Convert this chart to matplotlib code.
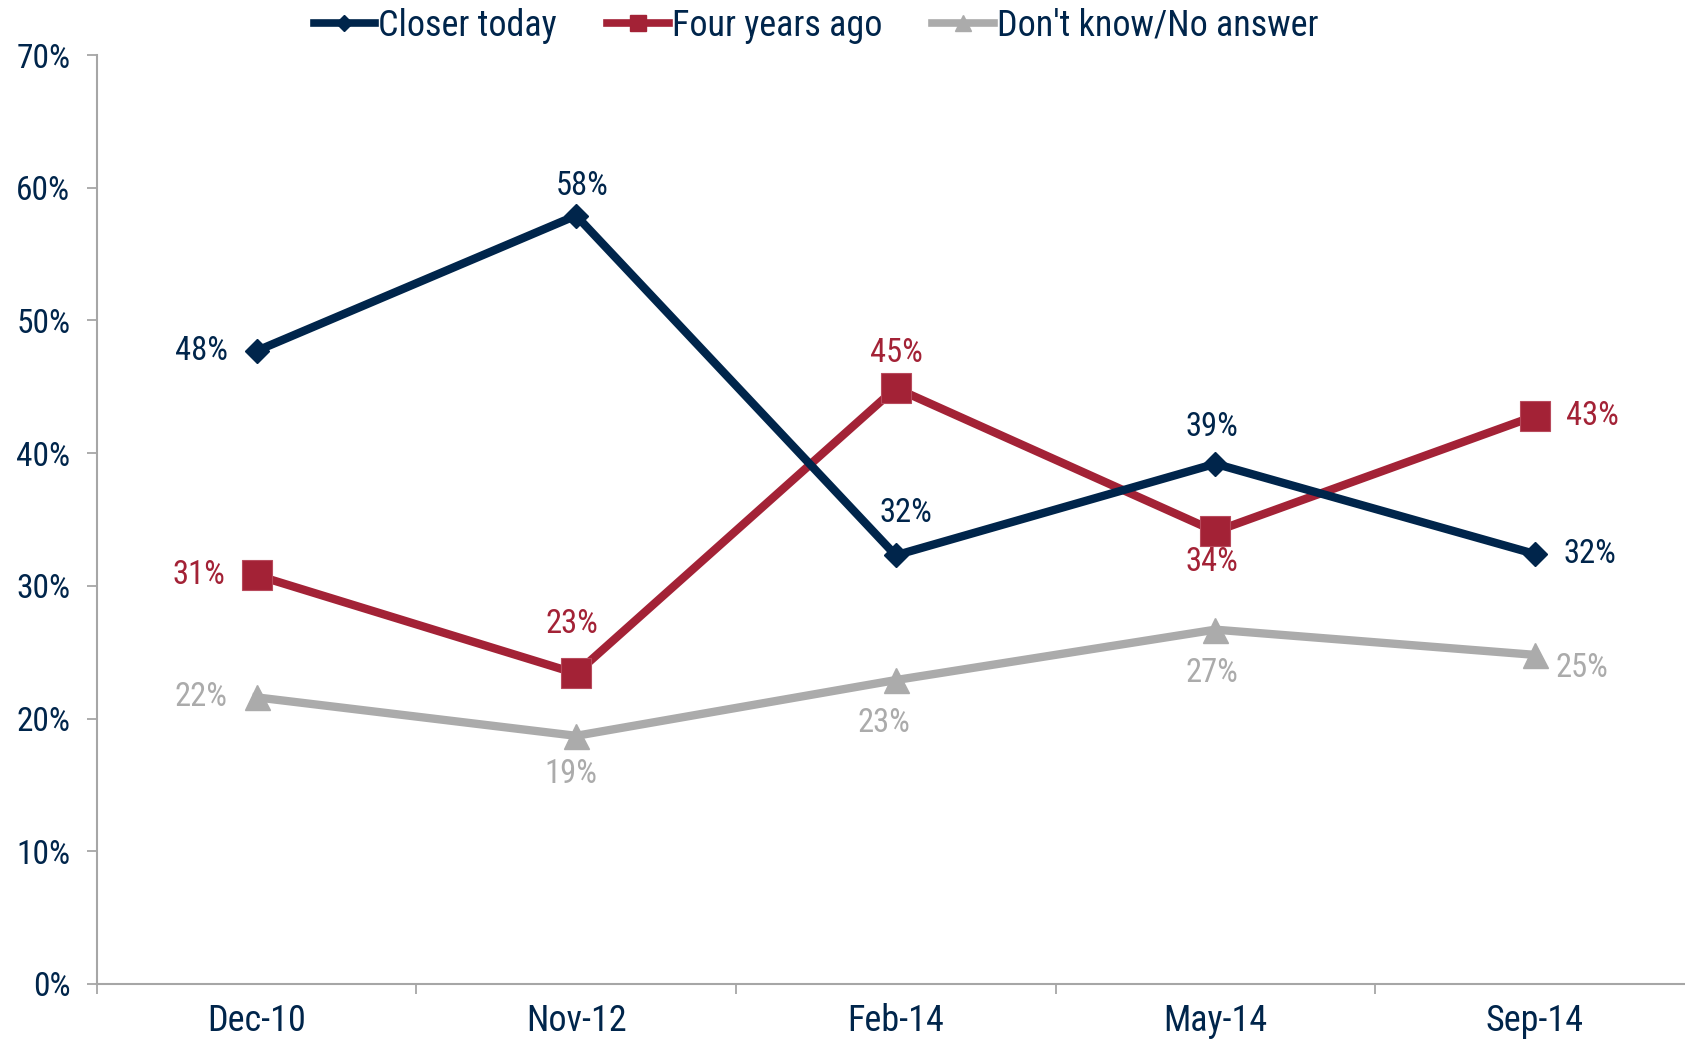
import matplotlib
matplotlib.use("Agg")
import matplotlib.pyplot as plt
from matplotlib.lines import Line2D
from matplotlib.ticker import FixedLocator, PercentFormatter

plt.rcParams['font.family'] = ['Roboto Condensed', 'DejaVu Sans']

categories = ["Dec-10", "Nov-12", "Feb-14", "May-14", "Sep-14"]
closer_today = [48, 58, 32, 39, 32]
four_years_ago = [31, 23, 45, 34, 43]
dont_know = [22, 19, 23, 27, 25]
# plotted positions (slightly off the rounded labels)
closer_pos = [47.7, 57.9, 32.3, 39.2, 32.4]
four_pos = [30.8, 23.4, 44.9, 34.1, 42.8]
dk_pos = [21.6, 18.7, 22.9, 26.7, 24.8]
yticks = [0, 10, 20, 30, 40, 50, 60, 70]

NAVY = "#00254B"
RED = "#A32236"
GRAY = "#ABABAB"
AXIS = "#A6A6A6"

W, H = 1685, 1040
fig = plt.figure(figsize=(W / 100, H / 100), dpi=100)
ax = fig.add_axes([96.7 / W, 56 / H, 1598 / W, 929 / H])

x = list(range(len(categories)))
ax.plot(x, closer_pos, color=NAVY, lw=6, marker="D", ms=12.5, zorder=4)
ax.plot(x, four_pos, color=RED, lw=6, marker="s", ms=21, zorder=3,
        markeredgecolor="#B84A5C", markeredgewidth=0.8)
ax.plot(x, dk_pos, color=GRAY, lw=6, marker="^", ms=18, zorder=2)

# label placement: (ha, dx_px, dy_px)
closer_place = [("right", -29, 0), ("center", 6, 30), ("center", 10, 42),
                ("center", -3, 37), ("left", 29, 0)]
four_place = [("right", -31, 0), ("center", -4, 49), ("center", 1, 35),
              ("center", -3, -31), ("left", 31, 0)]
dk_place = [("right", -29, 0), ("center", -5, -38), ("center", -12, -43),
            ("center", -3, -43), ("left", 21, -13)]

def label(vals, pos, place, color):
    for i, (v, p, (ha, dx, dy)) in enumerate(zip(vals, pos, place)):
        ax.annotate(f"{v}%", (i, p), xytext=(dx * 0.72, dy * 0.72),
                    textcoords="offset points", ha=ha, va="center",
                    fontsize=23.5, color=color, zorder=6)

label(closer_today, closer_pos, closer_place, NAVY)
label(four_years_ago, four_pos, four_place, RED)
label(dont_know, dk_pos, dk_place, GRAY)

ax.set_xlim(-0.5, 4.5)
ax.set_ylim(0, 70)
ax.set_yticks(yticks)
ax.yaxis.set_major_formatter(PercentFormatter(decimals=0))
ax.set_xticks(x)
ax.set_xticklabels(categories)
ax.xaxis.set_minor_locator(FixedLocator([i - 0.5 for i in range(len(categories) + 1)]))
ax.tick_params(axis="x", which="major", length=0, pad=14, labelsize=26, labelcolor=NAVY)
ax.tick_params(axis="x", which="minor", length=7, width=1.3, color=AXIS, direction="out")
ax.tick_params(axis="y", length=7, width=1.3, color=AXIS, direction="out", pad=12,
               labelsize=24, labelcolor=NAVY)
for s in ["top", "right"]:
    ax.spines[s].set_visible(False)
for s in ["left", "bottom"]:
    ax.spines[s].set_color(AXIS)
    ax.spines[s].set_linewidth(1.5)

handles = [
    Line2D([], [], color=NAVY, lw=5.5, marker="D", ms=8),
    Line2D([], [], color=RED, lw=5.5, marker="s", ms=12),
    Line2D([], [], color=GRAY, lw=5.5, marker="^", ms=11),
]
fig.legend(handles, ["Closer today", "Four years ago", "Don't know/No answer"],
           loc="center", bbox_to_anchor=(816 / W, 1 - 26 / H), ncol=3, frameon=False,
           fontsize=26, labelcolor=NAVY, handlelength=1.7, handletextpad=0.08,
           columnspacing=1.4, borderpad=0)

fig.savefig("out.png", dpi=100)
